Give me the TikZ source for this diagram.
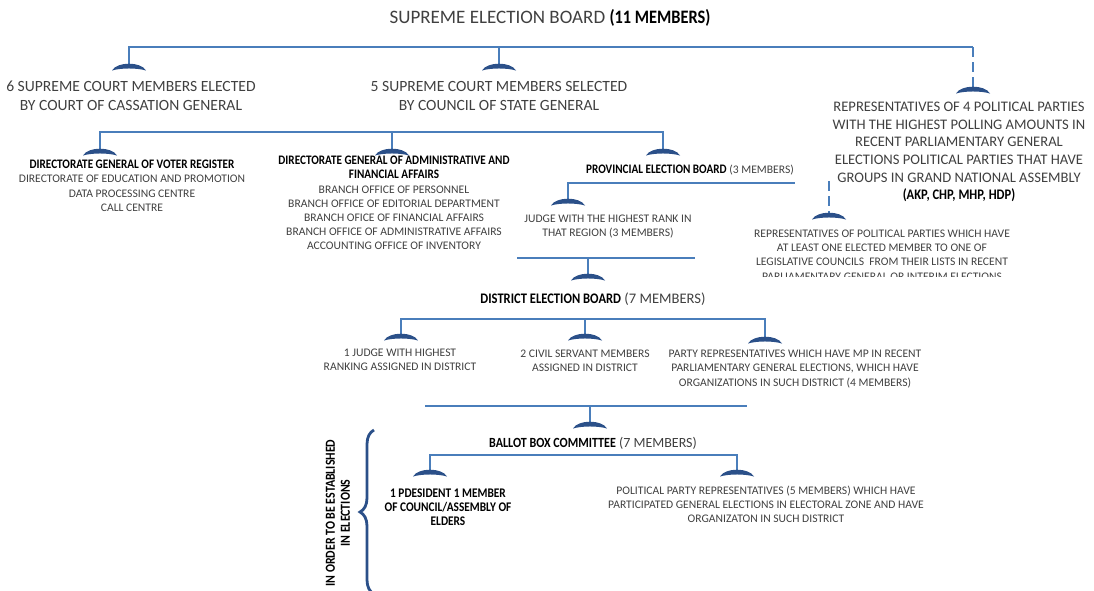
\documentclass[tikz,border=0pt]{standalone}
\usepackage{fontspec}
\setmainfont{Carlito}
\newfontfamily\cfont{Carlito}[FakeStretch=0.86]
\usetikzlibrary{decorations.pathreplacing}
\definecolor{ln}{HTML}{4A7EBB}
\definecolor{cp}{HTML}{2B5089}
\definecolor{tx}{HTML}{404040}
\newcommand{\bb}[1]{{\cfont\bfseries\color{black}#1}}
\begin{document}
\begin{tikzpicture}[x=1pt,y=-1pt,
  bus/.style={draw=ln, line width=2.6pt},
  dbus/.style={bus, dash pattern=on 10pt off 5pt},
  txt/.style={text=tx, align=center, inner sep=0pt},
  big/.style={txt, font=\fontsize{15.6}{19}\selectfont},
  mid/.style={txt, font=\fontsize{14.6}{17.6}\selectfont},
  sml/.style={txt, font=\fontsize{11.6}{14.2}\selectfont},
  hd/.style={txt, font=\fontsize{13.2}{14.2}\selectfont},
  capr/.pic={\fill[cp] (-17,6.5) .. controls (-12,-2.6) and (12,-2.6) .. (17,6.5) .. controls (8,3.8) and (-8,3.8) .. cycle;}
]
\useasboundingbox (0,0) rectangle (1094,590);

% ---- texts ----
\node[txt, font=\fontsize{19}{22}\selectfont] (seb) at (550,18) {SUPREME ELECTION BOARD \bb{(11 MEMBERS)}};
\node[big] (cas) at (131,96) {6 SUPREME COURT MEMBERS ELECTED\\BY COURT OF CASSATION GENERAL};
\node[big] (cos) at (499,96) {5 SUPREME COURT MEMBERS SELECTED\\BY COUNCIL OF STATE GENERAL};
\node[mid] (pp) at (959,152) {REPRESENTATIVES OF 4 POLITICAL PARTIES\\WITH THE HIGHEST POLLING AMOUNTS IN\\RECENT PARLIAMENTARY GENERAL\\ELECTIONS POLITICAL PARTIES THAT HAVE\\GROUPS IN GRAND NATIONAL ASSEMBLY\\\bb{(AKP, CHP, MHP, HDP)}};

\node[sml, anchor=north] (vr) at (132,160) {\bb{\fontsize{13}{14.2}\selectfont DIRECTORATE GENERAL OF VOTER REGISTER}\\DIRECTORATE OF EDUCATION AND PROMOTION\\DATA PROCESSING CENTRE\\CALL CENTRE};
\node[sml, anchor=north] (af) at (394,156) {\bb{\fontsize{13}{14.2}\selectfont DIRECTORATE GENERAL OF ADMINISTRATIVE AND}\\\bb{\fontsize{13}{14.2}\selectfont FINANCIAL AFFAIRS}\\BRANCH OFFICE OF PERSONNEL\\BRANCH OFFICE OF EDITORIAL DEPARTMENT\\BRANCH OFICE OF FINANCIAL AFFAIRS\\BRANCH OFFICE OF ADMINISTRATIVE AFFAIRS\\ACCOUNTING OFFICE OF INVENTORY};
\node[sml] (peb) at (690,170) {\bb{\fontsize{13}{14.2}\selectfont PROVINCIAL ELECTION BOARD} (3 MEMBERS)};

\node[sml] (jud) at (608,226.5) {JUDGE WITH THE HIGHEST RANK IN\\THAT REGION (3 MEMBERS)};
\begin{scope}
\clip (700,220) rectangle (1094,276.5);
\node[sml] (rep) at (882,255) {REPRESENTATIVES OF POLITICAL PARTIES WHICH HAVE\\AT LEAST ONE ELECTED MEMBER TO ONE OF\\LEGISLATIVE COUNCILS \ FROM THEIR LISTS IN RECENT\\PARLIAMENTARY GENERAL OR INTERIM ELECTIONS};
\end{scope}

\node[txt, font=\fontsize{14.6}{16}\selectfont] (deb) at (593,299) {\bb{DISTRICT ELECTION BOARD} (7 MEMBERS)};
\node[sml] (j1) at (400,360) {1 JUDGE WITH HIGHEST\\RANKING ASSIGNED IN DISTRICT};
\node[sml] (cs) at (585,360.5) {2 CIVIL SERVANT MEMBERS\\ASSIGNED IN DISTRICT};
\node[sml] (pr) at (795,369) {PARTY REPRESENTATIVES WHICH HAVE MP IN RECENT\\PARLIAMENTARY GENERAL ELECTIONS, WHICH HAVE\\ORGANIZATIONS IN SUCH DISTRICT (4 MEMBERS)};

\node[txt, font=\fontsize{14}{16}\selectfont] (bbc) at (593,443) {\bb{BALLOT BOX COMMITTEE} (7 MEMBERS)};
\node[hd] (pres) at (448,507) {\bb{1 PDESIDENT 1 MEMBER}\\\bb{OF COUNCIL/ASSEMBLY OF}\\\bb{ELDERS}};
\node[sml] (ppr) at (766,504.5) {POLITICAL PARTY REPRESENTATIVES (5 MEMBERS) WHICH HAVE\\PARTICIPATED GENERAL ELECTIONS IN ELECTORAL ZONE AND HAVE\\ORGANIZATON IN SUCH DISTRICT};

\node[txt, font=\fontsize{13.8}{15}\selectfont, rotate=90] (ord) at (338,513) {\bb{IN ORDER TO BE ESTABLISHED}\\\bb{IN ELECTIONS}};

% ---- connectors ----
% level 1
\coordinate (b1l) at (129,47); \coordinate (b1m) at (499,47); \coordinate (b1r) at (973,47);
\coordinate (c1l) at (129,64); \coordinate (c1m) at (499,64); \coordinate (c1r) at (973,87);
\draw[bus] (c1l) -- (b1l) -- (b1r);
\draw[bus] (b1m) -- (c1m);
\draw[dbus] (b1r) -- (c1r);
\foreach \c in {c1l,c1m,c1r} \pic at (\c) {capr};

% level 2
\coordinate (b2l) at (100,132); \coordinate (b2m) at (392,132); \coordinate (b2r) at (663,132);
\coordinate (c2l) at (100,149); \coordinate (c2m) at (392,149); \coordinate (c2r) at (663,149);
\draw[bus] (c2l) -- (b2l) -- (b2r) -- (c2r);
\draw[bus] (b2m) -- (c2m);
\foreach \c in {c2l,c2m,c2r} \pic at (\c) {capr};

% level 3
\coordinate (b3l) at (568,183); \coordinate (b3r) at (795,183);
\coordinate (c3l) at (568,199); \coordinate (d3t) at (829,181); \coordinate (c3r) at (829,213);
\draw[bus] (c3l) -- (b3l) -- (b3r);
\draw[dbus] (d3t) -- (c3r);
\foreach \c in {c3l,c3r} \pic at (\c) {capr};

% level 4
\coordinate (b4l) at (517,258); \coordinate (b4m) at (588,258); \coordinate (b4r) at (695,258);
\coordinate (c4m) at (588,274);
\draw[bus] (b4l) -- (b4r);
\draw[bus] (b4m) -- (c4m);
\pic at (c4m) {capr};

% level 5
\coordinate (b5l) at (401,319); \coordinate (b5m) at (585,319); \coordinate (b5r) at (765,319);
\coordinate (c5l) at (401,334); \coordinate (c5m) at (585,334); \coordinate (c5r) at (765,337);
\draw[bus] (c5l) -- (b5l) -- (b5r) -- (c5r);
\draw[bus] (b5m) -- (c5m);
\foreach \c in {c5l,c5m,c5r} \pic at (\c) {capr};

% level 6
\coordinate (b6l) at (425,406); \coordinate (b6m) at (590,406); \coordinate (b6r) at (747,406);
\coordinate (c6m) at (590,422);
\draw[bus] (b6l) -- (b6r);
\draw[bus] (b6m) -- (c6m);
\pic at (c6m) {capr};

% level 7
\coordinate (b7l) at (430,455); \coordinate (b7r) at (737,455);
\coordinate (c7l) at (430,470); \coordinate (c7r) at (737,470);
\draw[bus] (c7l) -- (b7l) -- (b7r) -- (c7r);
\foreach \c in {c7l,c7r} \pic at (\c) {capr};

% brace
\coordinate (brb) at (374,594); \coordinate (brt) at (374,430);
\draw[cp, line width=2.8pt, decorate, decoration={brace, amplitude=14pt}] (brb) -- (brt);
\end{tikzpicture}
\end{document}
